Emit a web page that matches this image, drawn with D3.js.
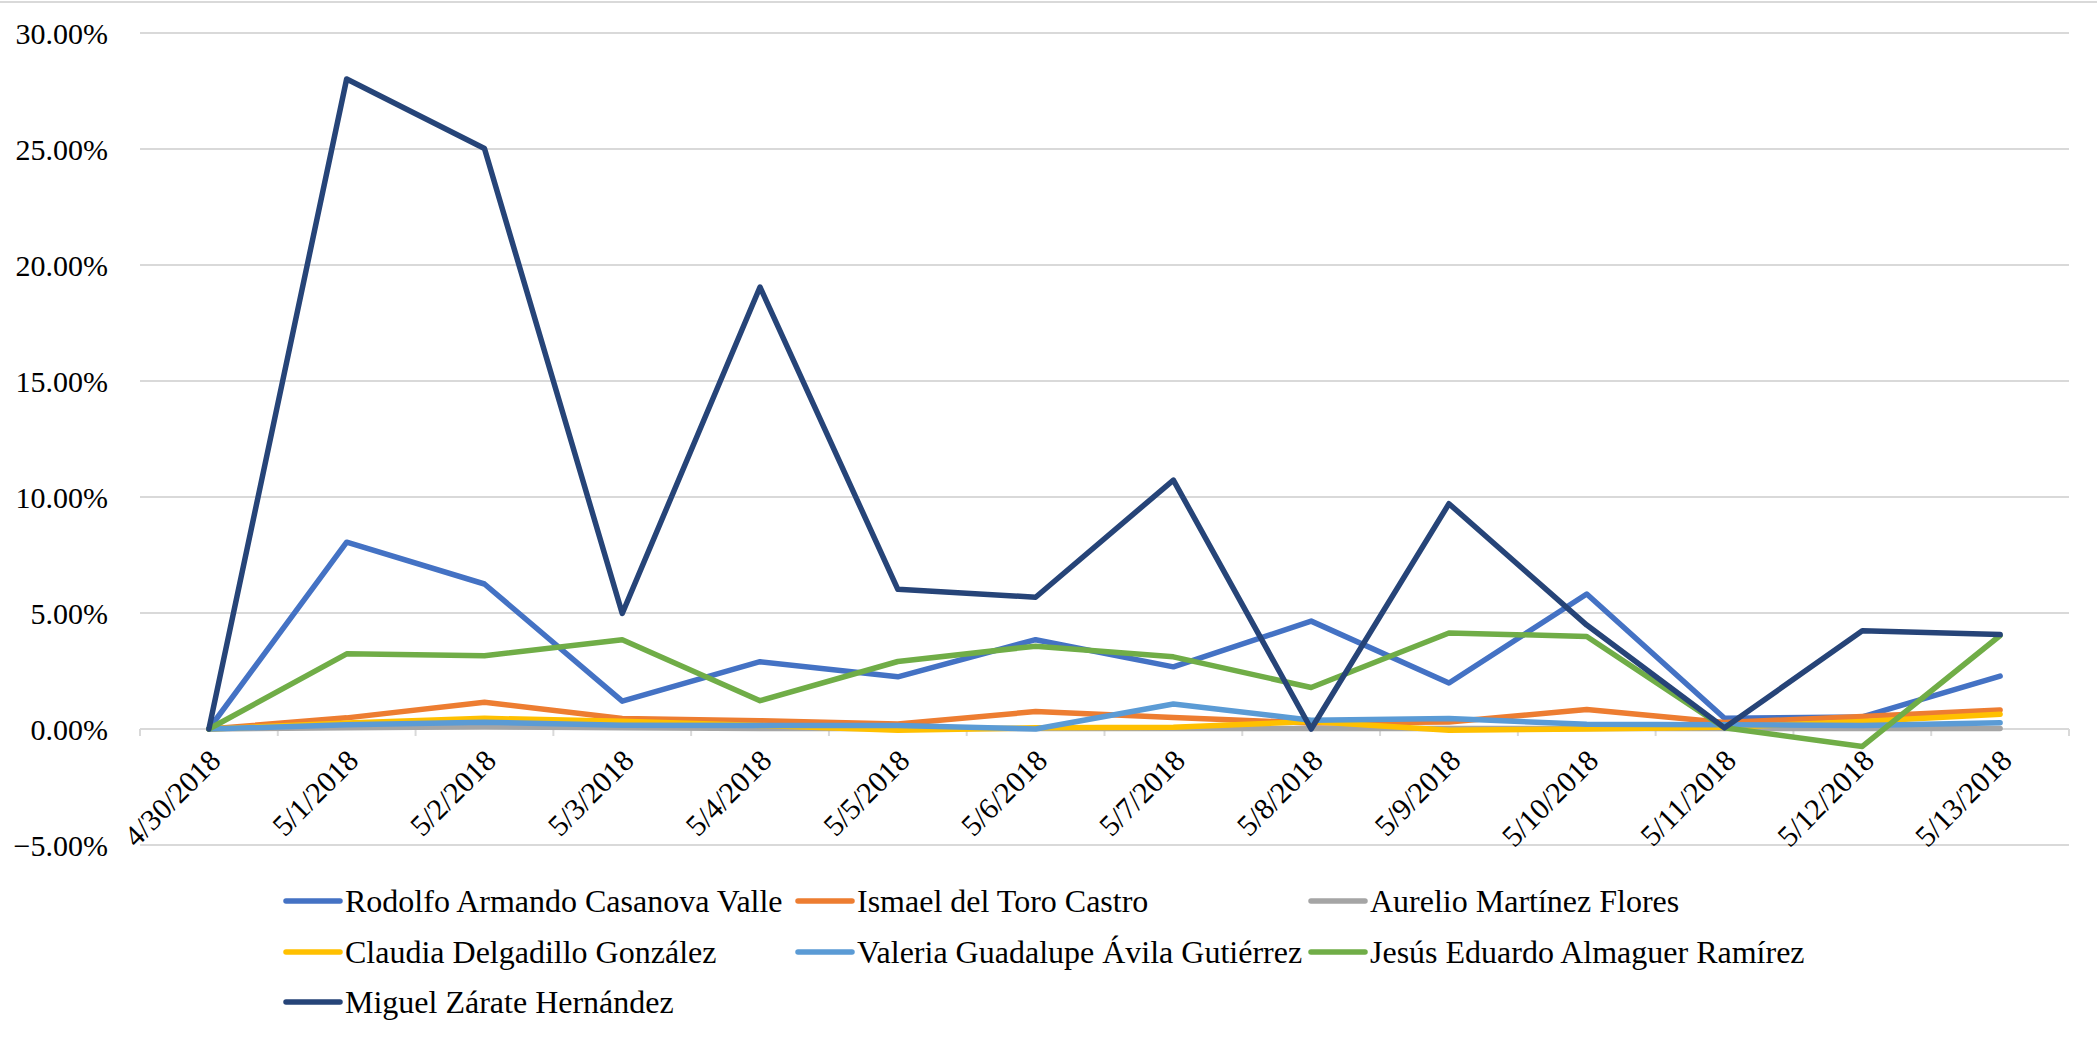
<!DOCTYPE html>
<html>
<head>
<meta charset="utf-8">
<script src="https://cdn.jsdelivr.net/npm/d3@7"></script>
<style>
  html, body { margin: 0; padding: 0; background: #fff; }
  svg { display: block; }
  svg text { font-family: "Liberation Serif", Tinos, "DejaVu Serif", "Noto Serif", "Times New Roman", Times, serif; }
</style>
</head>
<body>
<svg id="chart" width="2097" height="1037"></svg>
<script>
const categories = ["4/30/2018","5/1/2018","5/2/2018","5/3/2018","5/4/2018","5/5/2018","5/6/2018","5/7/2018","5/8/2018","5/9/2018","5/10/2018","5/11/2018","5/12/2018","5/13/2018"];

const seriesNames = [
  "Rodolfo Armando Casanova Valle",
  "Ismael del Toro Castro",
  "Aurelio Martínez Flores",
  "Claudia Delgadillo González",
  "Valeria Guadalupe Ávila Gutiérrez",
  "Jesús Eduardo Almaguer Ramírez",
  "Miguel Zárate Hernández"
];
const seriesColors = ["#4472C4","#ED7D31","#A5A5A5","#FFC000","#5B9BD5","#70AD47","#264478"];

// values in percent
const rodolfo = [0, 8.05, 6.25, 1.2, 2.9, 2.25, 3.85, 2.68, 4.65, 1.98, 5.82, 0.46, 0.52, 2.28];
const ismael  = [0, 0.48, 1.15, 0.45, 0.36, 0.22, 0.75, 0.5, 0.26, 0.3, 0.84, 0.28, 0.54, 0.82];
const aurelio = [0, 0.05, 0.1, 0.05, 0.02, 0.02, 0.02, 0.02, 0.02, 0.02, 0.02, 0.02, 0.02, 0.02];
const claudia = [0, 0.26, 0.46, 0.33, 0.15, -0.05, 0.05, 0.08, 0.32, -0.05, 0.0, 0.08, 0.32, 0.64];
const valeria = [0, 0.18, 0.29, 0.16, 0.15, 0.15, 0.0, 1.08, 0.38, 0.45, 0.2, 0.18, 0.15, 0.27];
const jesus   = [0, 3.24, 3.16, 3.85, 1.22, 2.91, 3.57, 3.11, 1.79, 4.14, 3.99, 0.05, -0.75, 4.03];
const miguel  = [0, 28.02, 25.02, 4.98, 19.05, 6.02, 5.68, 10.73, 0, 9.71, 4.48, 0.05, 4.23, 4.07];

const seriesValues = [rodolfo, ismael, aurelio, claudia, valeria, jesus, miguel];
const yTicks = [-5, 0, 5, 10, 15, 20, 25, 30];

const svg = d3.select("#chart");
const FONT = 30;
const LEGEND_FONT = 32;

// frame line at top
svg.append("line").attr("x1", 0).attr("x2", 2097).attr("y1", 2).attr("y2", 2)
  .attr("stroke", "#D9D9D9").attr("stroke-width", 2);

const left = 140, right = 2069;
const x = d3.scaleBand().domain(categories).range([left, right]).padding(0);
const y = d3.scaleLinear().domain([-5, 30]).range([845, 33]);

// gridlines
svg.append("g").selectAll("line").data(yTicks).join("line")
  .attr("x1", left).attr("x2", right)
  .attr("y1", d => y(d)).attr("y2", d => y(d))
  .attr("stroke", "#D9D9D9").attr("stroke-width", 2);

// y labels
svg.append("g").selectAll("text").data(yTicks).join("text")
  .attr("x", 108).attr("y", d => y(d))
  .attr("text-anchor", "end").attr("dominant-baseline", "central")
  .attr("font-size", FONT)
  .text(d => d3.format(".2f")(d) + "%");

// x axis ticks (at band boundaries) on the zero line
const bounds = categories.map(c => x(c)).concat([right]);
svg.append("g").selectAll("line").data(bounds).join("line")
  .attr("x1", d => d).attr("x2", d => d)
  .attr("y1", y(0)).attr("y2", y(0) + 7)
  .attr("stroke", "#D9D9D9").attr("stroke-width", 2);

// x labels
svg.append("g").selectAll("text").data(categories).join("text")
  .attr("transform", d => `translate(${x(d) + x.bandwidth() / 2 + 6},${y(0) + 26}) rotate(-45)`)
  .attr("text-anchor", "end").attr("dominant-baseline", "central")
  .attr("font-size", FONT)
  .text(d => d);

// lines
const line = d3.line()
  .x((d, i) => x(categories[i]) + x.bandwidth() / 2)
  .y(d => y(d));

svg.append("g").selectAll("path").data(seriesValues).join("path")
  .attr("d", d => line(d))
  .attr("fill", "none")
  .attr("stroke", (d, i) => seriesColors[i])
  .attr("stroke-width", 5.5)
  .attr("stroke-linejoin", "round")
  .attr("stroke-linecap", "round");

// legend
const legendPos = [
  [286, 901], [798, 901], [1311, 901],
  [286, 952], [798, 952], [1311, 952],
  [286, 1002]
];
const lg = svg.append("g").selectAll("g").data(seriesNames).join("g")
  .attr("transform", (d, i) => `translate(${legendPos[i][0]},${legendPos[i][1]})`);
lg.append("line").attr("x1", 0).attr("x2", 54).attr("y1", 0).attr("y2", 0)
  .attr("stroke", (d, i) => seriesColors[i]).attr("stroke-width", 5.5).attr("stroke-linecap", "round");
lg.append("text").attr("x", 59).attr("y", 0).attr("dominant-baseline", "central")
  .attr("font-size", LEGEND_FONT).text(d => d);
</script>
</body>
</html>
